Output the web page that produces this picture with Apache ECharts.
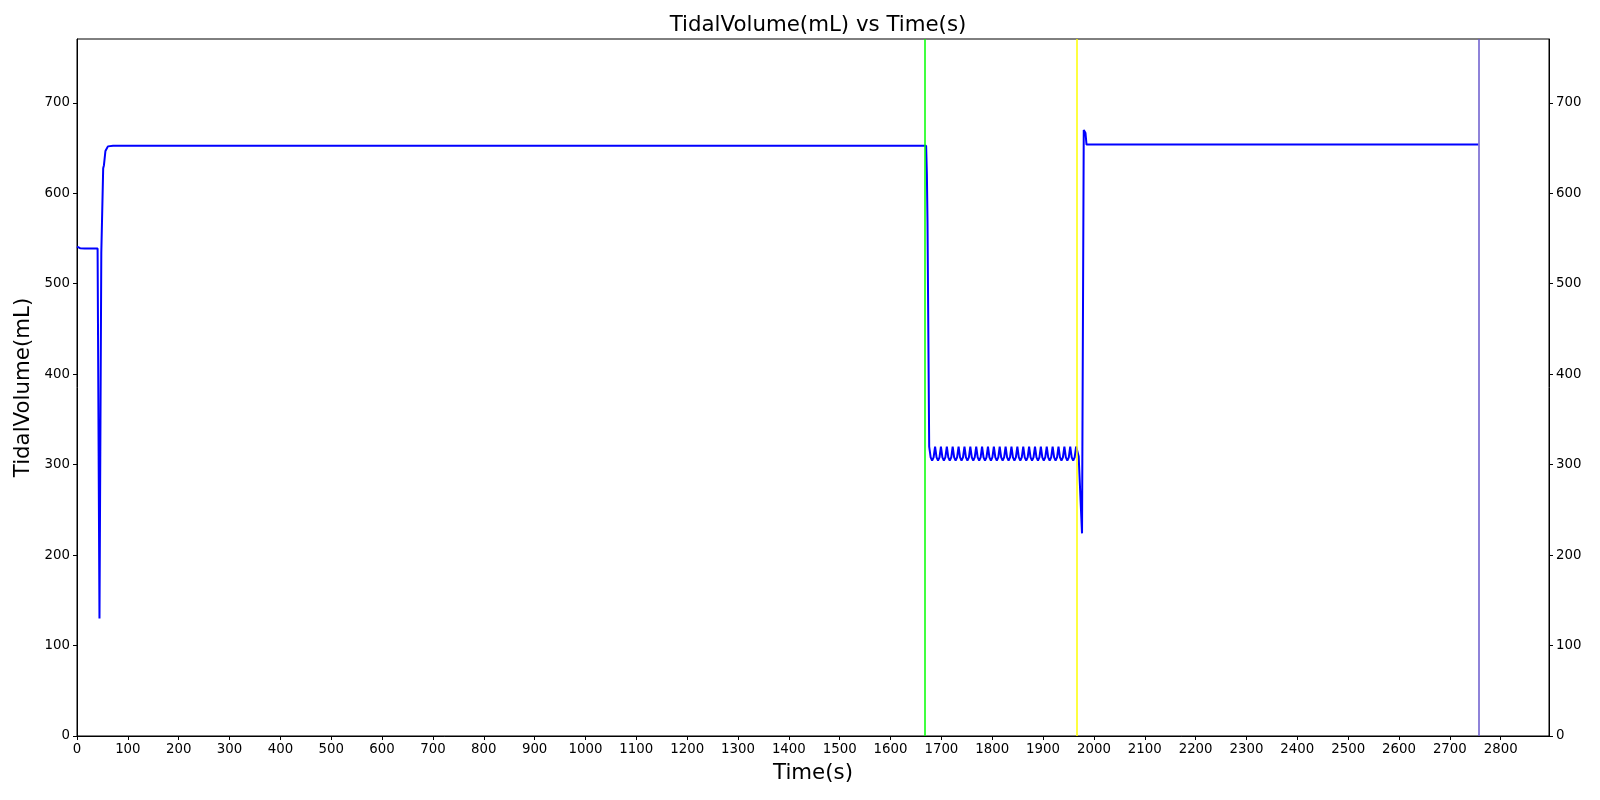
<!DOCTYPE html>
<html>
<head>
<meta charset="utf-8">
<script src="https://cdn.jsdelivr.net/npm/echarts@6/dist/echarts.min.js"></script>
<style>
html,body{margin:0;padding:0;background:#fff;}
#chart{width:1600px;height:800px;}
</style>
</head>
<body>
<div id="chart"></div>
<script>
// ---- data ----
const startTime  = [0, 2, 6, 15, 30, 40.5, 44.2, 47.8, 50.0, 51.5, 53.0, 55.9, 60.8, 71, 1670, 1671.5, 1672.7, 1673.2];
const startValue = [541, 540, 539.2, 539, 539, 538.8, 130, 534, 534.5, 627.6, 631, 646.7, 651.8, 652.5, 652.5, 620, 568, 567];

const oscTime = [
  1676.0, 1678.9, 1681.8, 1684.7,
  1687.6, 1690.5, 1693.4, 1696.3,
  1699.1, 1702.0, 1704.9, 1707.8,
  1710.7, 1713.6, 1716.5, 1719.4,
  1722.2, 1725.1, 1728.0, 1730.9,
  1733.8, 1736.7, 1739.6, 1742.5,
  1745.4, 1748.3, 1751.2, 1754.1,
  1756.9, 1759.8, 1762.7, 1765.6,
  1768.5, 1771.4, 1774.3, 1777.2,
  1780.0, 1782.9, 1785.8, 1788.7,
  1791.6, 1794.5, 1797.4, 1800.3,
  1803.2, 1806.1, 1809.0, 1811.9,
  1814.7, 1817.6, 1820.5, 1823.4,
  1826.3, 1829.2, 1832.1, 1835.0,
  1837.8, 1840.7, 1843.6, 1846.5,
  1849.4, 1852.3, 1855.2, 1858.1,
  1861.0, 1863.9, 1866.8, 1869.7,
  1872.5, 1875.4, 1878.3, 1881.2,
  1884.1, 1887.0, 1889.9, 1892.8,
  1895.6, 1898.5, 1901.4, 1904.3,
  1907.2, 1910.1, 1913.0, 1915.9,
  1918.8, 1921.7, 1924.6, 1927.5,
  1930.3, 1933.2, 1936.1, 1939.0,
  1941.9, 1944.8, 1947.7, 1950.6,
  1953.4, 1956.3, 1959.2, 1962.1,
  1965.0
];
const oscValue = [
  320, 308, 304.5, 308,
  320, 308, 304.5, 308,
  320, 308, 304.5, 308,
  320, 308, 304.5, 308,
  320, 308, 304.5, 308,
  320, 308, 304.5, 308,
  320, 308, 304.5, 308,
  320, 308, 304.5, 308,
  320, 308, 304.5, 308,
  320, 308, 304.5, 308,
  320, 308, 304.5, 308,
  320, 308, 304.5, 308,
  320, 308, 304.5, 308,
  320, 308, 304.5, 308,
  320, 308, 304.5, 308,
  320, 308, 304.5, 308,
  320, 308, 304.5, 308,
  320, 308, 304.5, 308,
  320, 308, 304.5, 308,
  320, 308, 304.5, 308,
  320, 308, 304.5, 308,
  320, 308, 304.5, 308,
  320, 308, 304.5, 308,
  320, 308, 304.5, 308,
  320, 308, 304.5, 308,
  320
];

const endTime  = [1970, 1973.6, 1976.6, 1980, 1981.5, 1983.4, 1985.4, 2756];
const endValue = [309, 308, 224, 670, 671, 666.6, 653.8, 653.8];

const eventTimes = [1667, 1967, 2756];

const xTicks = [0,100,200,300,400,500,600,700,800,900,1000,1100,1200,1300,1400,1500,1600,1700,1800,1900,2000,2100,2200,2300,2400,2500,2600,2700,2800];
const yTicks = [0,100,200,300,400,500,600,700];

const xMax = 2895;
const yMax = 770.5;

// ---- build ----
const allTime = startTime.concat(oscTime, endTime);
const allValue = startValue.concat(oscValue, endValue);
const seriesData = allTime.map((t, i) => [t, allValue[i]]);

const eventColors = ['#00ff00', '#ffff00', '#6a5acd'];
const font = 'DejaVu Sans';

const labelStyle = { color: '#000', fontSize: 13.33, fontFamily: font, formatter: v => String(v) };

function yAxisDef(pos, withName) {
  return {
    type: 'value', position: pos, min: 0, max: yMax,
    name: withName ? 'TidalVolume(mL)' : '',
    nameLocation: 'middle', nameGap: 43,
    nameTextStyle: { color: '#000', fontSize: 21.33, fontFamily: font },
    axisLine: { show: true, lineStyle: { color: '#000', width: 1 } },
    axisTick: { show: true, inside: false, length: 4, lineStyle: { color: '#000' }, customValues: yTicks },
    axisLabel: Object.assign({ margin: 7, customValues: yTicks }, labelStyle),
    splitLine: { show: false }
  };
}

const chart = echarts.init(document.getElementById('chart'), null, { renderer: 'canvas' });
chart.setOption({
  animation: false,
  backgroundColor: '#fff',
  title: {
    text: 'TidalVolume(mL) vs Time(s)', left: 813, top: 10, textAlign: 'center',
    textStyle: { color: '#000', fontSize: 21.33, fontWeight: 'normal', fontFamily: font }
  },
  grid: { left: 77, right: 51, top: 39, bottom: 64, show: true, borderColor: '#000', borderWidth: 1, backgroundColor: 'transparent' },
  xAxis: {
    type: 'value', min: 0, max: xMax,
    name: 'Time(s)', nameLocation: 'middle', nameGap: 27,
    nameTextStyle: { color: '#000', fontSize: 21.33, fontFamily: font, verticalAlign: 'top' },
    axisLine: { show: true, onZero: false, lineStyle: { color: '#000', width: 1 } },
    axisTick: { show: true, inside: false, length: 4, lineStyle: { color: '#000' }, customValues: xTicks },
    axisLabel: Object.assign({ margin: 7, customValues: xTicks }, labelStyle),
    splitLine: { show: false }
  },
  yAxis: [yAxisDef('left', true), yAxisDef('right', false)],
  series: [
    {
      type: 'line', data: seriesData, showSymbol: false, symbol: 'none',
      lineStyle: { color: '#0000ff', width: 2 }, z: 3,
      markLine: {
        silent: true, symbol: ['none', 'none'], label: { show: false },
        data: eventTimes.map((t, i) => ({ xAxis: t, lineStyle: { color: eventColors[i], width: 1.5, type: 'solid' } }))
      }
    }
  ]
});
</script>
</body>
</html>
